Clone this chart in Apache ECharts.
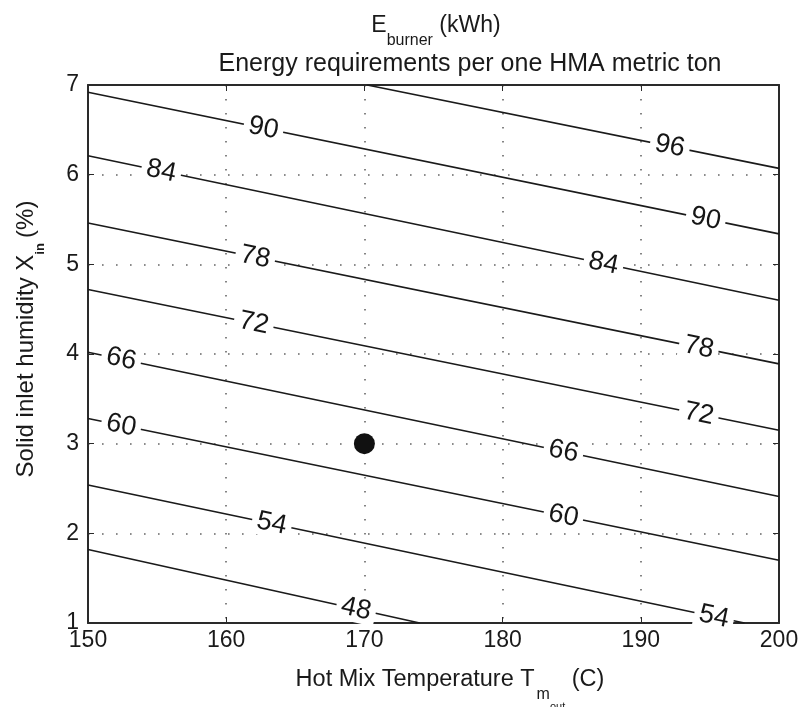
<!DOCTYPE html>
<html>
<head>
<meta charset="utf-8">
<script src="https://cdn.jsdelivr.net/npm/echarts@6/dist/echarts.min.js"></script>
<style>
html,body{margin:0;padding:0;background:#fff;}
#chart{width:802px;height:707px;}
</style>
</head>
<body>
<div id="chart"></div>
<script>
// ---- data ----
const xTickLabels = [150, 160, 170, 180, 190, 200];
const yTickLabels = [1, 2, 3, 4, 5, 6, 7];

const contourLevels = [48, 54, 60, 66, 72, 78, 84, 90, 96];
// each contour: [T (C), X_in (%)] end points
const line48 = [[150, 1.82], [174.0, 1.0]];
const line54 = [[150, 2.54], [197.5, 1.0]];
const line60 = [[150, 3.28], [200, 1.70]];
const line66 = [[150, 4.02], [200, 2.41]];
const line72 = [[150, 4.72], [200, 3.15]];
const line78 = [[150, 5.46], [200, 3.89]];
const line84 = [[150, 6.21], [200, 4.60]];
const line90 = [[150, 6.92], [200, 5.34]];
const line96 = [[170.2, 7.0], [200, 6.07]];
const contourLines = [line48, line54, line60, line66, line72, line78, line84, line90, line96];

// inline contour labels: level and T position along the line
const labelLevels = [90, 84, 78, 72, 66, 60, 54, 48, 96, 90, 84, 78, 72, 66, 60, 54];
const labelXs = [162.7, 155.3, 162.1, 162.0, 152.4, 152.4, 163.3, 169.4, 192.1, 194.7, 187.3, 194.2, 194.2, 184.4, 184.4, 195.3];

const operatingPoint = [[170, 3]];

// ---- chart ----
const FONT = '"Liberation Sans", Arial, Helvetica, sans-serif';
const chart = echarts.init(document.getElementById('chart'));

const measureCtx = document.createElement('canvas').getContext('2d');
function textWidth(t, size) {
  measureCtx.font = size + 'px ' + FONT;
  return measureCtx.measureText(t).width;
}
function richGroup(parts, cx, cy, rotation) {
  const total = parts.reduce((s, p) => s + textWidth(p.text, p.size) + (p.gap || 0), 0);
  let x = -total / 2;
  const children = parts.map(p => {
    const el = {
      type: 'text', x: x + (p.gap || 0), y: p.dy || 0,
      style: {
        text: p.text, fontSize: p.size, fontFamily: FONT, fontWeight: p.weight || 'normal',
        fill: '#1a1a1a', align: 'left', verticalAlign: 'middle',
        textAlign: 'left', textVerticalAlign: 'middle'
      }
    };
    x += textWidth(p.text, p.size) + (p.gap || 0);
    return el;
  });
  return { type: 'group', x: cx, y: cy, rotation: rotation || 0, children };
}

const axisCommon = {
  type: 'value',
  axisLine: { show: true, lineStyle: { color: '#2a2a2a', width: 2 } },
  axisTick: { show: true, inside: true, length: 6, lineStyle: { color: '#2a2a2a', width: 1 } },
};

const lineSeries = contourLines.map((pts, i) => ({
  type: 'line',
  name: 'E' + contourLevels[i],
  data: pts,
  showSymbol: false,
  symbol: 'none',
  silent: true,
  z: 2,
  lineStyle: { color: '#1a1a1a', width: 1.6 },
  animation: false
}));

const pointSeries = {
  type: 'scatter',
  name: 'operating point',
  data: operatingPoint,
  symbol: 'circle',
  symbolSize: 21,
  z: 10,
  itemStyle: { color: '#111', opacity: 1 },
  silent: true
};

const option = {
  animation: false,
  backgroundColor: '#fff',
  grid: { left: 88, right: 23, top: 85, bottom: 84, containLabel: false },
  xAxis: [
    Object.assign({}, axisCommon, {
      position: 'bottom',
      min: xTickLabels[0], max: xTickLabels[xTickLabels.length - 1],
      interval: xTickLabels[1] - xTickLabels[0],
      axisLabel: { color: '#1a1a1a', fontSize: 23, fontFamily: FONT, margin: 6 },
      splitLine: { show: true, lineStyle: { color: '#666', width: 1.6, type: [1.6, 12.4] } }
    }),
    Object.assign({}, axisCommon, {
      position: 'top',
      min: xTickLabels[0], max: xTickLabels[xTickLabels.length - 1],
      interval: xTickLabels[1] - xTickLabels[0],
      axisLabel: { show: false }, splitLine: { show: false }
    })
  ],
  yAxis: [
    Object.assign({}, axisCommon, {
      position: 'left',
      min: yTickLabels[0], max: yTickLabels[yTickLabels.length - 1],
      interval: yTickLabels[1] - yTickLabels[0],
      axisLabel: { color: '#1a1a1a', fontSize: 23, fontFamily: FONT, margin: 9 },
      splitLine: { show: true, lineStyle: { color: '#666', width: 1.6, type: [1.6, 12.4] } }
    }),
    Object.assign({}, axisCommon, {
      position: 'right',
      min: yTickLabels[0], max: yTickLabels[yTickLabels.length - 1],
      interval: yTickLabels[1] - yTickLabels[0],
      axisLabel: { show: false }, splitLine: { show: false }
    })
  ],
  graphic: [
    richGroup([
      { text: 'E', size: 23 },
      { text: 'burner', size: 16, dy: 15 },
      { text: ' (kWh)', size: 23 }
    ], 436, 26),
    richGroup([{ text: 'Energy requirements per one HMA metric ton', size: 25 }], 470, 64),
    richGroup([
      { text: 'Hot Mix Temperature T', size: 23.5 },
      { text: 'm', size: 16, dy: 15, gap: 2 },
      { text: 'out', size: 11, dy: 27 },
      { text: ' (C)', size: 23.5 }
    ], 450, 680),
    richGroup([
      { text: 'Solid inlet humidity X', size: 24 },
      { text: 'in', size: 13, dy: 14, weight: 'bold' },
      { text: ' (%)', size: 24 }
    ], 26, 339, Math.PI / 2)
  ],
  series: lineSeries.concat([pointSeries])
};
chart.setOption(option);

// contour labels: y from the contour line, rotated along it in pixel space
function yOnLine(pts, x) {
  const [a, b] = pts;
  return a[1] + (b[1] - a[1]) * (x - a[0]) / (b[0] - a[0]);
}
const labelData = labelLevels.map((lv, i) => {
  const pts = contourLines[contourLevels.indexOf(lv)];
  const x = labelXs[i];
  const y = yOnLine(pts, x);
  const p1 = chart.convertToPixel({ gridIndex: 0 }, pts[0]);
  const p2 = chart.convertToPixel({ gridIndex: 0 }, pts[1]);
  const ang = -Math.atan2(p2[1] - p1[1], p2[0] - p1[0]) * 180 / Math.PI;
  return { value: [x, y, lv], label: { rotate: ang } };
});

chart.setOption({
  series: lineSeries.concat([
    pointSeries,
    {
      type: 'scatter',
      name: 'contour labels',
      data: labelData,
      symbolSize: 0,
      z: 5,
      silent: true,
      itemStyle: { opacity: 1 },
      label: {
        show: true,
        position: 'inside',
        formatter: p => String(p.value[2]),
        color: '#161616',
        opacity: 1,
        fontSize: 27,
        fontFamily: FONT,
        backgroundColor: '#fff',
        padding: [0, 5],
        align: 'center',
        verticalAlign: 'middle'
      }
    }
  ])
});
</script>
</body>
</html>
